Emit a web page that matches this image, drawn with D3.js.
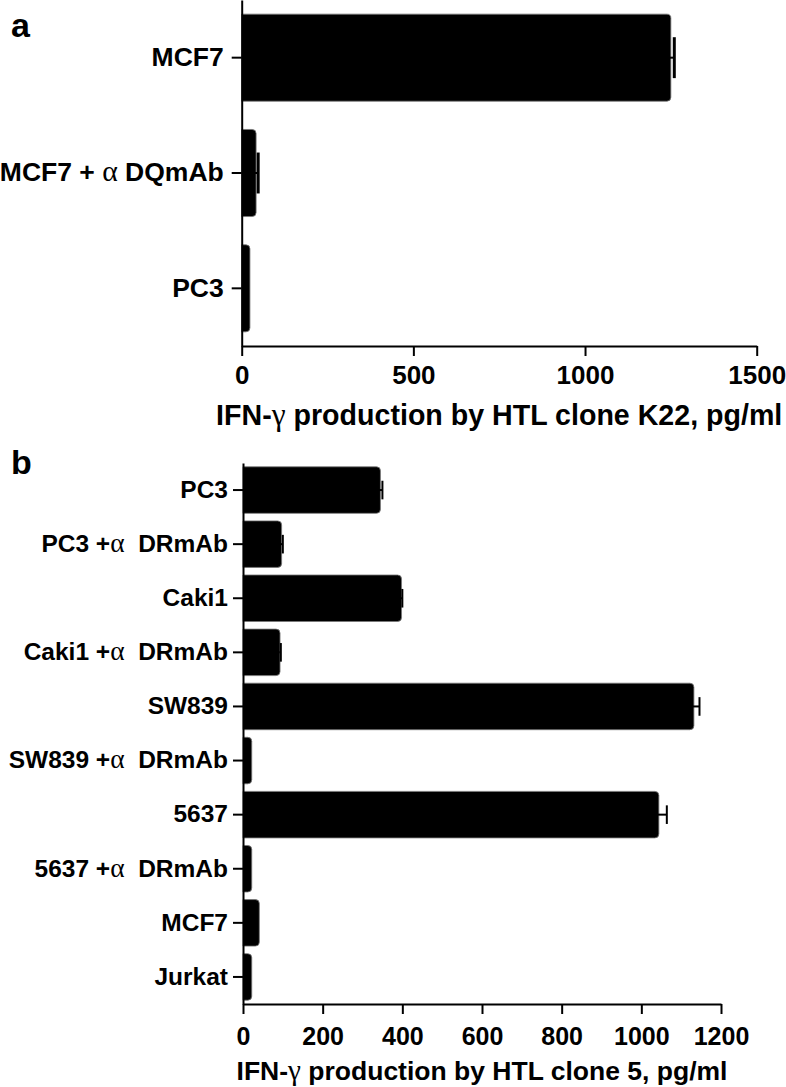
<!DOCTYPE html>
<html>
<head>
<meta charset="utf-8">
<script src="https://cdn.jsdelivr.net/npm/d3@7"></script>
<style>
  body { margin: 0; background: #fff; }
  svg { display: block; font-family: "Liberation Sans", Arial, sans-serif; font-weight: bold; }
</style>
</head>
<body>
<svg></svg>
<script>
const size = {w: 786, h: 1087};

// panel a
const labelsA = ['MCF7', 'MCF7 + α DQmAb', 'PC3'];
const valuesA = [1250, 42, 24];
const errorsA = [10, 6, 0];
const ticksA = [0, 500, 1000, 1500];

// panel b
const labelsB = ['PC3', 'PC3 +α  DRmAb', 'Caki1', 'Caki1 +α  DRmAb', 'SW839',
    'SW839 +α  DRmAb', '5637', '5637 +α  DRmAb', 'MCF7', 'Jurkat'];
const valuesB = [345, 97, 398, 93, 1132, 22, 1044, 22, 41, 22];
const errorsB = [5, 3, 2, 2, 14, 0, 20, 0, 0, 0];
const ticksB = [0, 200, 400, 600, 800, 1000, 1200];

const svg = d3.select('svg')
    .attr('width', size.w)
    .attr('height', size.h);

drawPanel({
    letter: 'a', letterPos: [11, 37], letterSize: 34,
    labels: labelsA, values: valuesA, errors: errorsA, ticks: ticksA,
    x: [241.7, 756.7], y: [0, 346], padding: 0.245,
    labelSize: 26.5, tickSize: 26, titleSize: 28.6,
    labelPad: 8, tickBaseline: 384, titleBaseline: 425,
    capFrac: 0.47, capWidth: 3,
    title: ['IFN-', 'γ', ' production by HTL clone K22, pg/ml']
});

drawPanel({
    letter: 'b', letterPos: [11, 474], letterSize: 34,
    labels: labelsB, values: valuesB, errors: errorsB, ticks: ticksB,
    x: [243, 721], y: [463, 1004], padding: 0.14,
    labelSize: 24.5, tickSize: 25, titleSize: 26.5,
    labelPad: 5, tickBaseline: 1045, titleBaseline: 1080,
    capFrac: 0.4, capWidth: 2,
    title: ['IFN-', 'γ', ' production by HTL clone 5, pg/ml']
});

function drawPanel (cfg) {
    let g = svg.append('g');

    let x = d3.scaleLinear()
        .domain([0, d3.max(cfg.ticks)])
        .range(cfg.x);

    let y = d3.scaleBand()
        .domain(cfg.labels)
        .range(cfg.y)
        .paddingInner(cfg.padding)
        .paddingOuter(cfg.padding / 2);

    let data = cfg.labels.map((d, i) => ({label: d, value: cfg.values[i], err: cfg.errors[i]}));

    // bars, square on the axis side and rounded at the end
    let r = 4;
    g.selectAll('path.bar')
        .data(data)
        .enter()
        .append('path')
        .classed('bar', true)
        .attr('d', function (d) {
            let x0 = x(0), x1 = x(d.value), y0 = y(d.label), y1 = y0 + y.bandwidth();
            let rr = Math.min(r, (x1 - x0) / 2);
            return 'M' + x0 + ',' + y0 + 'H' + (x1 - rr) +
                'Q' + x1 + ',' + y0 + ' ' + x1 + ',' + (y0 + rr) +
                'V' + (y1 - rr) +
                'Q' + x1 + ',' + y1 + ' ' + (x1 - rr) + ',' + y1 +
                'H' + x0 + 'Z';
        })
        .attr('fill', '#000')
        .attr('stroke', '#777')
        .attr('stroke-width', 0.8);

    // error bars (only the upper half shows past the bar)
    let eb = g.selectAll('g.err')
        .data(data.filter(d => d.err > 0))
        .enter()
        .append('g')
        .classed('err', true);
    eb.append('line')
        .attr('x1', d => x(d.value - d.err))
        .attr('x2', d => x(d.value + d.err))
        .attr('y1', d => y(d.label) + y.bandwidth() / 2)
        .attr('y2', d => y(d.label) + y.bandwidth() / 2)
        .attr('stroke', '#000')
        .attr('stroke-width', 2);
    eb.append('line')
        .attr('x1', d => x(d.value + d.err))
        .attr('x2', d => x(d.value + d.err))
        .attr('y1', d => y(d.label) + y.bandwidth() * (0.5 - cfg.capFrac / 2))
        .attr('y2', d => y(d.label) + y.bandwidth() * (0.5 + cfg.capFrac / 2))
        .attr('stroke', '#000')
        .attr('stroke-width', cfg.capWidth);

    // y axis
    let yAxis = g.append('g')
        .attr('transform', 'translate(' + x(0) + ',0)')
        .call(d3.axisLeft(y).tickSize(10).tickSizeOuter(0).tickPadding(cfg.labelPad));
    yAxis.select('.domain').attr('stroke-width', 2);
    yAxis.selectAll('.tick line').attr('stroke-width', 2);
    yAxis.selectAll('.tick text')
        .attr('font-size', cfg.labelSize)
        .attr('font-family', '"Liberation Sans", Arial, sans-serif')
        .attr('font-weight', 'bold')
        .attr('fill', '#000')
        .style('white-space', 'pre')
        .each(function (d) {
            let t = d3.select(this);
            let parts = d.split('α');
            t.text(null);
            t.append('tspan').text(parts[0]);
            if (parts.length > 1) {
                t.append('tspan').text('α')
                    .attr('font-family', '"Liberation Serif", serif')
                    .attr('font-weight', 'normal')
                    .attr('font-size', cfg.labelSize * 1.12);
                t.append('tspan').text(parts[1]);
            }
        });

    // x axis
    let xAxis = g.append('g')
        .attr('transform', 'translate(0,' + cfg.y[1] + ')')
        .call(d3.axisBottom(x).tickValues(cfg.ticks).tickFormat(d3.format('d')).tickSize(10).tickSizeOuter(0));
    xAxis.select('.domain').attr('stroke-width', 2);
    xAxis.selectAll('.tick line').attr('stroke-width', 2);
    xAxis.selectAll('.tick text')
        .attr('font-size', cfg.tickSize)
        .attr('font-family', '"Liberation Sans", Arial, sans-serif')
        .attr('font-weight', 'bold')
        .attr('fill', '#000')
        .attr('dy', null)
        .attr('y', cfg.tickBaseline - cfg.y[1]);

    // axis title
    let title = g.append('text')
        .attr('x', (cfg.x[0] + cfg.x[1]) / 2)
        .attr('y', cfg.titleBaseline)
        .attr('text-anchor', 'middle')
        .attr('font-size', cfg.titleSize)
        .style('white-space', 'pre');
    title.append('tspan').text(cfg.title[0]);
    title.append('tspan').text(cfg.title[1])
        .attr('font-family', '"Liberation Serif", serif')
        .attr('font-weight', 'normal')
        .attr('font-size', cfg.titleSize * 1.1);
    title.append('tspan').text(cfg.title[2]);

    // panel letter
    g.append('text')
        .attr('x', cfg.letterPos[0])
        .attr('y', cfg.letterPos[1])
        .attr('font-size', cfg.letterSize)
        .text(cfg.letter);
}
</script>
</body>
</html>
